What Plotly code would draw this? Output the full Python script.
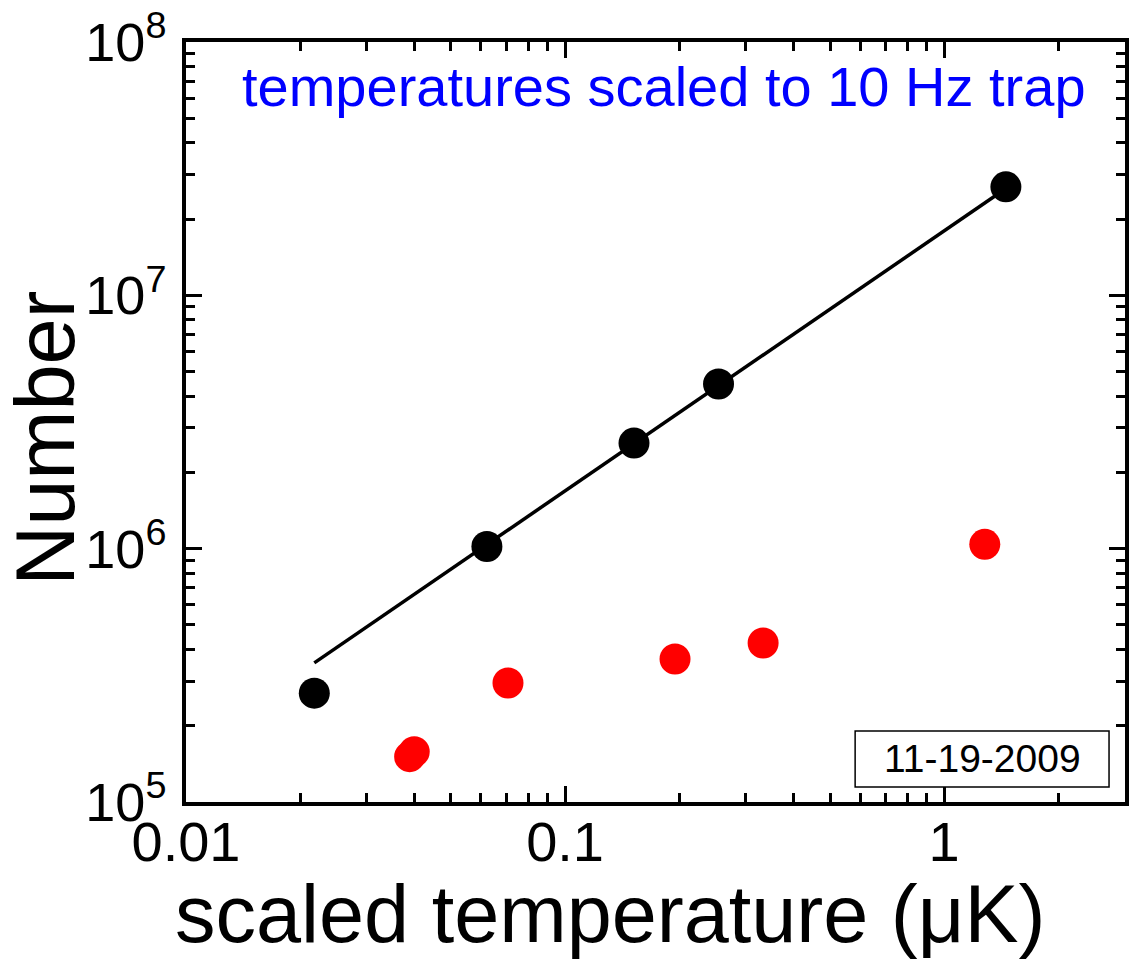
import plotly.graph_objects as go

# Data
black_T = [0.0218, 0.0622, 0.152, 0.254, 1.455]
black_N = [2.69e5, 1.02e6, 2.61e6, 4.47e6, 2.68e7]

red_T = [0.0389, 0.0400, 0.0707, 0.195, 0.333, 1.28]
red_N = [1.51e5, 1.58e5, 2.95e5, 3.67e5, 4.24e5, 1.04e6]

fit_T = [0.0218, 1.455]
fit_N = [3.54e5, 2.64e7]

x_tickvals = [0.01, 0.1, 1]
x_ticktext = ["0.01", "0.1", "1"]
x_minor = [0.02, 0.03, 0.04, 0.05, 0.06, 0.07, 0.08, 0.09,
           0.2, 0.3, 0.4, 0.5, 0.6, 0.7, 0.8, 0.9, 2, 3]
y_tickvals = [1e5, 1e6, 1e7, 1e8]
y_ticktext = ["10<sup>5</sup>", "10<sup>6</sup>", "10<sup>7</sup>", "10<sup>8</sup>"]
y_minor = [m * 10 ** e for e in (5, 6, 7) for m in range(2, 10)]

FONT = "Liberation Sans, Arial, sans-serif"

fig = go.Figure()
fig.add_trace(go.Scatter(x=fit_T, y=fit_N, mode="lines",
                         line=dict(color="black", width=3.5), showlegend=False))
fig.add_trace(go.Scatter(x=black_T, y=black_N, mode="markers",
                         marker=dict(color="black", size=31, line=dict(width=0)),
                         showlegend=False))
fig.add_trace(go.Scatter(x=red_T, y=red_N, mode="markers",
                         marker=dict(color="#ff0000", size=31, line=dict(width=0)),
                         showlegend=False))

axis_common = dict(
    type="log", showgrid=False, zeroline=False,
    showline=True, linecolor="black", linewidth=3.5, mirror="ticks",
    ticks="inside", ticklen=16, tickwidth=3, tickcolor="black",
)

fig.update_xaxes(
    **axis_common,
    range=[-2, 0.4771],
    tickmode="array", tickvals=x_tickvals, ticktext=x_ticktext,
    tickfont=dict(family=FONT, size=56, color="black"),
    ticklabelstandoff=-12,
    minor=dict(tickmode="array", tickvals=x_minor, ticks="inside",
               ticklen=9, tickwidth=3, tickcolor="black"),
)
fig.update_yaxes(
    **axis_common,
    range=[5, 8],
    tickmode="array", tickvals=y_tickvals, ticktext=y_ticktext,
    tickfont=dict(family=FONT, size=54, color="black"),
    ticklabelstandoff=5,
    minor=dict(tickmode="array", tickvals=y_minor, ticks="inside",
               ticklen=9, tickwidth=3, tickcolor="black"),
)

fig.add_annotation(text="scaled temperature (\u03bcK)", xref="paper", yref="paper",
                   x=0.452, y=-0.147, xanchor="center", yanchor="middle",
                   showarrow=False, font=dict(family=FONT, size=81, color="black"))
fig.add_annotation(text="Number", xref="paper", yref="paper",
                   x=-0.149, y=0.478, xanchor="center", yanchor="middle",
                   textangle=-90, showarrow=False,
                   font=dict(family=FONT, size=83, color="black"))
fig.add_annotation(text="temperatures scaled to 10 Hz trap", xref="paper", yref="paper",
                   x=0.509, y=0.942, xanchor="center", yanchor="middle",
                   showarrow=False, font=dict(family=FONT, size=56, color="#0000ff"))

fig.add_shape(type="rect", xref="paper", yref="paper",
              x0=0.7126, x1=0.983, y0=0.0197, y1=0.0934,
              line=dict(color="black", width=1.5), fillcolor="white", layer="above")
fig.add_annotation(text="11-19-2009", xref="paper", yref="paper",
                   x=0.8478, y=0.0566, xanchor="center", yanchor="middle",
                   showarrow=False, font=dict(family=FONT, size=39, color="black"))

fig.update_layout(
    width=1132, height=960,
    margin=dict(l=186, r=3, t=42, b=158),
    plot_bgcolor="white", paper_bgcolor="white",
    showlegend=False,
)

fig.write_html("out.html")
